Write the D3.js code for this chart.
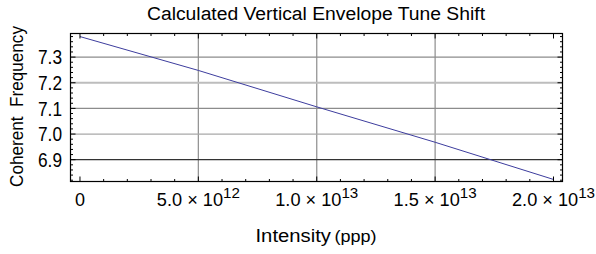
<!DOCTYPE html>
<html>
<head>
<meta charset="utf-8">
<script src="https://cdn.jsdelivr.net/npm/d3@7"></script>
<style>
  body { margin: 0; background: #fff; }
  text { font-family: "Liberation Sans", Arial, sans-serif; fill: #000; }
</style>
</head>
<body>
<script>
var width = 596,
    height = 254;

// data
var intensity = [0, 5e12, 1e13, 1.5e13, 2e13];
var freq = [7.380, 7.248, 7.106, 6.968, 6.823];
var xTicks = [0, 5e12, 1e13, 1.5e13, 2e13];
var xTickMant = ["0", "5.0", "1.0", "1.5", "2.0"];
var xTickExp = ["", "12", "13", "13", "13"];
var yTicks = [6.9, 7.0, 7.1, 7.2, 7.3];
var yTickLabels = ["6.9", "7.0", "7.1", "7.2", "7.3"];
var hGrid = [7.3, 7.2, 7.1, 7.0, 6.9];
var hGridColor = ["#8c8c8c", "#bdbdbd", "#8c8c8c", "#a8a8a8", "#333"];
var vGrid = [5e12, 1e13, 1.5e13];

var svg = d3.select("body").append("svg")
  .attr("width", width)
  .attr("height", height);

var x = d3.scaleLinear().domain([-4e11, 2.038e13]).range([70.5, 562.5]);
var y = d3.scaleLinear().domain([6.815, 7.392]).range([181.5, 33.5]);

// grid
svg.selectAll(".vg").data(vGrid).enter().append("line")
  .attr("x1", d => x(d)).attr("x2", d => x(d))
  .attr("y1", y.range()[1]).attr("y2", y.range()[0])
  .attr("stroke", "#959595").attr("stroke-width", 1.3);

svg.selectAll(".hg").data(hGrid).enter().append("line")
  .attr("x1", x.range()[0]).attr("x2", x.range()[1])
  .attr("y1", d => y(d)).attr("y2", d => y(d))
  .attr("stroke", (d, i) => hGridColor[i])
  .attr("stroke-width", (d, i) => i == 1 ? 2 : 1.3);

// line
var line = d3.line().x((d, i) => x(intensity[i])).y(d => y(d));
svg.append("path")
  .attr("d", line(freq))
  .attr("fill", "none")
  .attr("stroke", "#3d3d9e")
  .attr("stroke-width", 1);

// ticks on all four sides, pointing inward
var xMinor = d3.range(0, 2.01e13, 1e12);
var yMinor = d3.range(6.82, 7.391, 0.02);
var x0 = x.range()[0], x1 = x.range()[1], y0 = y.range()[0], y1 = y.range()[1];

function tickLen(v, majors) {
  return majors.some(m => Math.abs(m - v) < 1e-6 * Math.max(1, Math.abs(m))) ? 5 : 2.5;
}

xMinor.forEach(function(v) {
  var len = tickLen(v, xTicks);
  svg.append("line").attr("x1", x(v)).attr("x2", x(v)).attr("y1", y0).attr("y2", y0 - len)
    .attr("stroke", "#000");
  svg.append("line").attr("x1", x(v)).attr("x2", x(v)).attr("y1", y1).attr("y2", y1 + len)
    .attr("stroke", "#000");
});
yMinor.forEach(function(v) {
  var len = tickLen(v, yTicks);
  svg.append("line").attr("x1", x0).attr("x2", x0 + len).attr("y1", y(v)).attr("y2", y(v))
    .attr("stroke", "#000");
  svg.append("line").attr("x1", x1).attr("x2", x1 - len).attr("y1", y(v)).attr("y2", y(v))
    .attr("stroke", "#000");
});

// frame
svg.append("rect")
  .attr("x", x0).attr("y", y1)
  .attr("width", x1 - x0).attr("height", y0 - y1)
  .attr("fill", "none").attr("stroke", "#000").attr("stroke-width", 1.2);

// y tick labels
svg.selectAll(".yl").data(yTicks).enter().append("text")
  .attr("x", 62).attr("y", d => y(d))
  .attr("dy", "0.36em")
  .attr("text-anchor", "end")
  .attr("font-size", 20)
  .attr("textLength", 24).attr("lengthAdjust", "spacingAndGlyphs")
  .text((d, i) => yTickLabels[i]);

// x tick labels with powers of ten
xTicks.forEach(function(v, i) {
  var t = svg.append("text")
    .attr("x", x(v)).attr("y", 206)
    .attr("text-anchor", "middle")
    .attr("font-size", 18);
  if (xTickExp[i] === "") {
    t.text(xTickMant[i]);
  } else {
    t.attr("textLength", 83).attr("lengthAdjust", "spacingAndGlyphs");
    t.append("tspan").text(xTickMant[i] + " \u00d7 10");
    t.append("tspan").attr("dy", -8).attr("font-size", 15).text(xTickExp[i]);
  }
});

// title
svg.append("text")
  .attr("x", 316).attr("y", 20)
  .attr("text-anchor", "middle")
  .attr("font-size", 18)
  .attr("textLength", 338).attr("lengthAdjust", "spacingAndGlyphs")
  .text("Calculated Vertical Envelope Tune Shift");

// axis labels
svg.append("text")
  .attr("x", 316).attr("y", 242)
  .attr("text-anchor", "middle")
  .attr("font-size", 18)
  .attr("textLength", 121).attr("lengthAdjust", "spacingAndGlyphs")
  .text("Intensity")
  .append("tspan").attr("font-size", 16).text("\u2009(ppp)");

svg.append("text")
  .attr("transform", "translate(23,106.5) rotate(-90)")
  .attr("text-anchor", "middle")
  .attr("font-size", 19)
  .attr("textLength", 161).attr("lengthAdjust", "spacingAndGlyphs")
  .attr("xml:space", "preserve")
  .text("Coherent  Frequency");
</script>
</body>
</html>
